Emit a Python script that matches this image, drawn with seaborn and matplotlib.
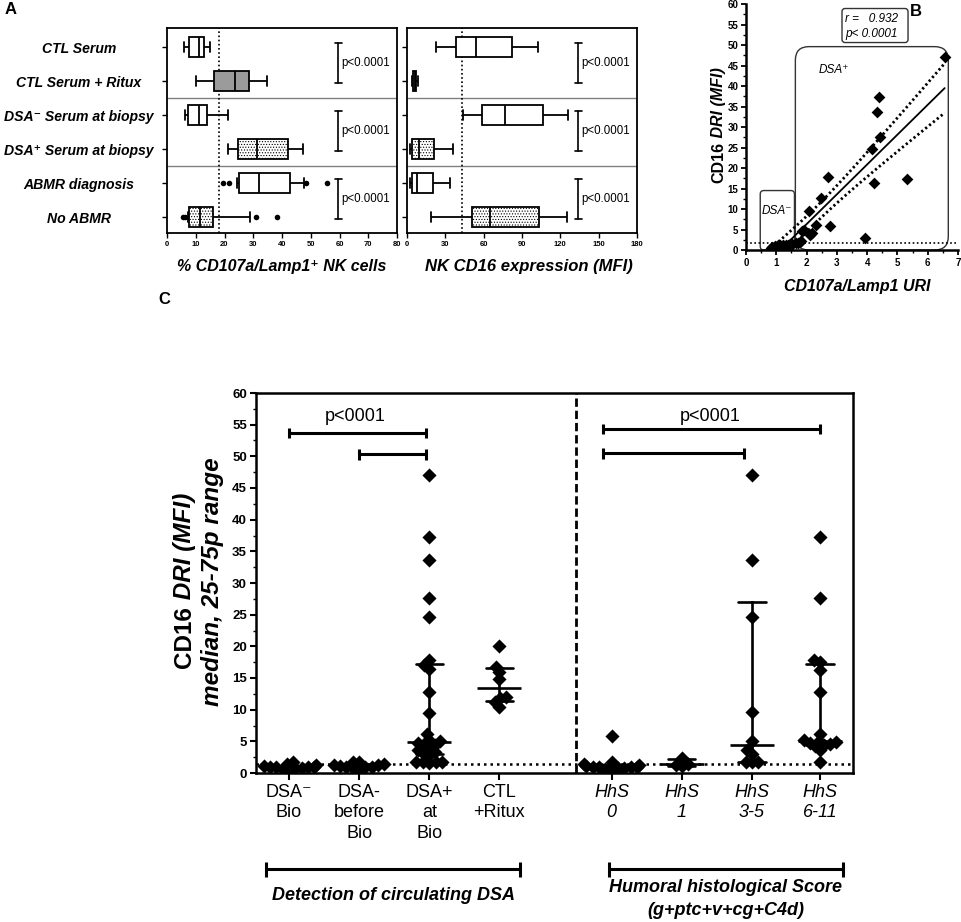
import numpy as np
import pandas as pd
import matplotlib
matplotlib.use("Agg")
import matplotlib.pyplot as plt
import matplotlib.transforms as mtransforms
from matplotlib.patches import FancyBboxPatch
from matplotlib.ticker import MultipleLocator
from matplotlib import font_manager as fm
import seaborn as sns

# ---------------- Panel A data (five-number summaries) ----------------
a_rows = ["CTL Serum", "CTL Serum + Ritux", "DSA\u207b Serum at biopsy",
          "DSA\u207a Serum at biopsy", "ABMR diagnosis", "No ABMR"]
a_fill = ["white", "gray", "white", "dots", "white", "dots"]
# whisker low, Q1, median, Q3, whisker high
a_cd107 = [[6.0, 7.5, 11.0, 13.0, 15.0],
           [10.0, 16.3, 23.8, 28.6, 34.7],
           [6.4, 7.4, 11.0, 13.9, 21.2],
           [21.2, 24.6, 31.3, 42.1, 47.4],
           [24.5, 25.2, 32.0, 42.8, 47.8],
           [7.2, 7.7, 11.4, 15.9, 28.8]]
a_cd107_out_rows = [4, 4, 4, 4, 5, 5, 5, 5]
a_cd107_out_vals = [19.4, 21.6, 48.2, 55.5, 5.5, 6.3, 30.8, 38.1]
a_cd16 = [[22.7, 38.3, 54.2, 82.2, 102.5],
          [4.0, 5.0, 6.0, 7.0, 9.0],
          [44.0, 58.4, 76.7, 106.4, 125.7],
          [2.4, 4.2, 9.7, 20.9, 36.0],
          [2.6, 3.9, 7.6, 20.6, 33.9],
          [18.5, 51.0, 65.0, 103.0, 125.0]]
a_cd107_cut = 18.0
a_cd16_cut = 43.0
a_pval = "p<0.0001"

# ---------------- Panel B data ----------------
b_uri = [0.82, 0.86, 0.90, 0.95, 1.00, 1.02, 1.08, 1.12, 1.18, 1.22, 1.28, 1.33, 1.38, 1.45, 1.52,
         1.65, 1.78, 1.73, 1.82, 1.84, 1.93, 2.10, 2.17, 2.09, 2.31, 2.78, 2.48, 2.70, 3.94,
         4.17, 4.23, 4.33, 4.39, 4.42, 5.32, 6.56]
b_dri = [0.6, 0.8, 0.5, 0.9, 0.7, 1.0, 0.8, 1.1, 0.9, 1.2, 1.0, 1.3, 1.1, 1.4, 1.5,
         1.6, 1.9, 1.8, 2.3, 4.6, 5.0, 3.7, 4.1, 9.5, 6.1, 5.9, 12.8, 17.8, 2.9,
         24.7, 16.3, 33.7, 37.2, 27.6, 17.3, 47.0]
b_cut = 1.8
b_r_text = "r =   0.932"
b_p_text = "p< 0.0001"

# ---------------- Panel C data ----------------
c_labels = ["DSA\u207b\nBio", "DSA-\nbefore\nBio", "DSA+\nat\nBio", "CTL\n+Ritux",
            "HhS\n0", "HhS\n1", "HhS\n3-5", "HhS\n6-11"]
c_dsa_neg_bio = [0.6, 0.7, 0.8, 0.8, 0.9, 0.9, 1.0, 1.0, 1.1, 1.2, 1.5, 1.8]
c_dsa_neg_before = [0.7, 0.8, 0.9, 1.0, 1.0, 1.1, 1.2, 1.3, 1.5, 1.7, 1.8]
c_dsa_pos_bio = [47.0, 37.2, 33.7, 27.6, 24.7, 17.8, 17.1, 16.5, 12.8, 9.5, 6.1, 5.2, 5.0,
                 4.8, 4.6, 4.4, 4.1, 3.7, 3.3, 3.1, 2.9, 1.8, 1.7, 1.7, 1.7, 1.6]
c_ctl_ritux = [20.0, 16.8, 16.0, 14.8, 12.0, 11.8, 11.2, 10.5]
c_hhs_0 = [5.8, 1.8, 1.4, 1.2, 1.1, 1.0, 1.0, 0.9, 0.9, 0.8, 0.8, 0.7, 0.6]
c_hhs_1 = [2.4, 1.5, 1.3, 1.1]
c_hhs_3_5 = [47.0, 33.7, 24.7, 9.6, 5.1, 3.6, 3.0, 1.7, 1.7, 1.7]
c_hhs_6_11 = [37.2, 27.6, 17.8, 17.6, 16.3, 12.8, 6.1, 5.2, 5.0, 4.9, 4.8, 4.6, 4.4, 4.2, 3.6, 1.7]
c_groups = [c_dsa_neg_bio, c_dsa_neg_before, c_dsa_pos_bio, c_ctl_ritux,
            c_hhs_0, c_hhs_1, c_hhs_3_5, c_hhs_6_11]
c_pos = [0, 1, 2, 3, 4.6, 5.6, 6.6, 7.57]
c_cut = 1.5
c_sep = 4.09
c_brackets = [(0.0, 1.95, 53.7), (1.0, 1.95, 50.3), (4.47, 7.57, 54.3), (4.47, 6.48, 50.5)]
c_ptext = [(0.95, 56.3), (6.0, 56.3)]

# ---------------- style ----------------
sns.set_style("ticks")
names = {f.name for f in fm.fontManager.ttflist}
BASE = "Liberation Sans" if "Liberation Sans" in names else "DejaVu Sans"
FAM = [BASE, "DejaVu Sans"]
plt.rcParams["font.family"] = FAM
plt.rcParams["hatch.linewidth"] = 0.5
plt.rcParams["axes.edgecolor"] = "black"
plt.rcParams["xtick.color"] = "black"
plt.rcParams["ytick.color"] = "black"
plt.rcParams["text.color"] = "black"

W, H = 962, 922
fig = plt.figure(figsize=(W / 100, H / 100), dpi=100)
fig.patch.set_facecolor("white")


def ax_at(x0, y0, x1, y1):
    return fig.add_axes([x0 / W, 1 - y1 / H, (x1 - x0) / W, (y1 - y0) / H])


def ftext(x, y, s, **kw):
    return fig.text(x / W, 1 - y / H, s, **kw)


axA1 = ax_at(167, 28, 397, 233)
axA2 = ax_at(407, 28, 637, 233)
axB = ax_at(746, 4, 958, 250)
axC = ax_at(256, 393, 853, 773)


# ---------------- Panel A ----------------
def panel_a(ax, stats, cut, xmax, xstep, px_width, pval_x, labels):
    df = pd.DataFrame({"row": np.repeat(a_rows, 5), "val": np.concatenate(stats)})
    sns.boxplot(data=df, x="val", y="row", order=a_rows, whis=(0, 100), width=0.6,
                color="white", linecolor="black", linewidth=1.3, showfliers=False,
                saturation=1, ax=ax)
    for patch, fill in zip(ax.patches, a_fill):
        patch.set_edgecolor("black")
        if fill == "gray":
            patch.set_facecolor("#9b9b9b")
        elif fill == "dots":
            patch.set_facecolor("white")
            patch.set_hatch("......")
        else:
            patch.set_facecolor("white")
    for y in (1.5, 3.5):
        ax.axhline(y, color="#808080", lw=1.0, zorder=0)
    ax.axvline(cut, color="black", lw=1.2, ls=(0, (1, 1.5)), zorder=0.5)
    d = xmax / px_width * 3.5
    for k in (0, 2, 4):
        y0, y1 = k - 0.12, k + 1.05
        ax.plot([pval_x, pval_x], [y0, y1], color="black", lw=1.2)
        ax.plot([pval_x - d, pval_x + d], [y0, y0], color="black", lw=1.2)
        ax.plot([pval_x - d, pval_x + d], [y1, y1], color="black", lw=1.2)
        ax.text(pval_x + d * 0.8, k + 0.47, a_pval, fontsize=8.3, va="center", ha="left")
    ax.set_xlim(0, xmax)
    ax.set_ylim(5.47, -0.56)
    ax.set_xticks(np.arange(0, xmax + 1, xstep))
    ax.set_xticklabels([f"{int(v)}" for v in np.arange(0, xmax + 1, xstep)],
                       fontsize=5.5, fontweight="bold")
    ax.set_yticks(range(6))
    if labels:
        ax.set_yticklabels(a_rows, fontsize=10.1, fontweight="bold", fontstyle="italic")
        for t in ax.get_yticklabels():
            t.set_horizontalalignment("center")
        ax.tick_params(axis="y", pad=60)
    else:
        ax.set_yticklabels([])
    ax.set_xlabel("")
    ax.set_ylabel("")
    for s in ax.spines.values():
        s.set_visible(True)
        s.set_linewidth(1.3)
    ax.tick_params(axis="x", direction="out", length=3.5, width=1.0, pad=2)
    ax.tick_params(axis="y", direction="out", length=3.5, width=1.0)


panel_a(axA1, a_cd107, a_cd107_cut, 80, 10, 230, 59.5, True)
sns.scatterplot(x=a_cd107_out_vals, y=a_cd107_out_rows, color="black", s=16,
                edgecolor="black", linewidth=0, ax=axA1, zorder=5)
axA1.set_ylim(5.47, -0.56)
panel_a(axA2, a_cd16, a_cd16_cut, 180, 30, 230, 134, False)

ftext(282, 267, "% CD107a/Lamp1\u207a NK cells", fontsize=11.5, fontweight="bold",
      fontstyle="italic", ha="center", va="center")
ftext(529, 267, "NK CD16 expression (MFI)", fontsize=12, fontweight="bold",
      fontstyle="italic", ha="center", va="center")

# ---------------- Panel B ----------------
bx = np.array(b_uri)
by = np.array(b_dri)
sns.scatterplot(x=bx, y=by, marker="D", s=36, color="black", edgecolor="black",
                linewidth=0, ax=axB, zorder=5)
sns.regplot(x=bx, y=by, scatter=False, ci=None, truncate=True,
            line_kws={"color": "black", "lw": 1.3}, ax=axB)
slope, icpt = np.polyfit(bx, by, 1)
n = len(bx)
resid = by - (icpt + slope * bx)
s_res = np.sqrt(np.sum(resid ** 2) / (n - 2))
sxx = np.sum((bx - bx.mean()) ** 2)
xg = np.linspace(bx.min(), bx.max(), 100)
se = s_res * np.sqrt(1.0 / n + (xg - bx.mean()) ** 2 / sxx)
T95 = 2.03
for sign in (1, -1):
    axB.plot(xg, icpt + slope * xg + sign * T95 * se, color="black", lw=2.0,
             ls=(0, (0.8, 1.0)))
axB.axhline(b_cut, color="black", lw=1.2, ls=(0, (1, 1.5)))

# rounded region boxes (x units ~30 px, y units ~4.1 px)
asp = 30.2 / 4.1
axB.add_patch(FancyBboxPatch((0.47, 0.0), 1.13, 14.5,
                             boxstyle="round,pad=0,rounding_size=0.12",
                             mutation_aspect=asp, fc="none", ec="#333333", lw=1.0,
                             clip_on=False))
axB.add_patch(FancyBboxPatch((1.63, 0.0), 5.05, 49.6,
                             boxstyle="round,pad=0,rounding_size=0.45",
                             mutation_aspect=asp, fc="none", ec="#333333", lw=1.0,
                             clip_on=False))
axB.add_patch(FancyBboxPatch((3.17, 50.6), 2.18, 8.3,
                             boxstyle="round,pad=0,rounding_size=0.1",
                             mutation_aspect=asp, fc="none", ec="#333333", lw=1.0,
                             clip_on=False))
axB.text(3.27, 56.3, b_r_text, fontsize=8.5, fontstyle="italic", va="center", ha="left")
axB.text(3.27, 52.7, b_p_text, fontsize=8.5, fontstyle="italic", va="center", ha="left")
axB.text(2.39, 43.9, "DSA\u207a", fontsize=8.5, fontstyle="italic", va="center", ha="left")
axB.text(0.52, 9.4, "DSA\u207b", fontsize=8.5, fontstyle="italic", va="center", ha="left")

axB.set_xlim(0, 7)
axB.set_ylim(0, 60)
axB.set_xticks(range(0, 8))
axB.set_xticklabels([str(v) for v in range(0, 8)], fontsize=7, fontweight="bold")
axB.set_yticks(range(0, 61, 5))
axB.set_yticklabels([str(v) for v in range(0, 61, 5)], fontsize=7, fontweight="bold")
axB.yaxis.set_minor_locator(MultipleLocator(2.5))
axB.xaxis.set_minor_locator(MultipleLocator(0.5))
sns.despine(ax=axB)
for s in ("left", "bottom"):
    axB.spines[s].set_linewidth(1.8)
axB.tick_params(which="major", direction="out", length=3.5, width=1.3, pad=2)
axB.tick_params(which="minor", direction="out", length=2, width=1.0)
axB.set_xlabel("")
axB.set_ylabel("")
ftext(857, 286, "CD107a/Lamp1 URI", fontsize=11.5, fontweight="bold",
      fontstyle="italic", ha="center", va="center")

# ---------------- Panel C ----------------
dfc = pd.DataFrame({
    "pos": np.concatenate([[p] * len(g) for p, g in zip(c_pos, c_groups)]),
    "val": np.concatenate(c_groups)})


def iqr_weibull(v):
    return (np.percentile(v, 25, method="weibull"), np.percentile(v, 75, method="weibull"))


sns.pointplot(data=dfc, x="pos", y="val", native_scale=True, estimator="median",
              errorbar=iqr_weibull, capsize=0.4, color="black", marker="_",
              linestyle="none", markersize=32, markeredgewidth=1.9,
              err_kws={"linewidth": 1.9}, ax=axC)
n_before = len(axC.collections)
SWARM_LAYOUT = 4.4   # spacing used for the beeswarm arrangement (points overlap like GraphPad)
SWARM_SIZE = 7.2     # drawn marker size
sns.swarmplot(data=dfc, x="pos", y="val", native_scale=True, marker="D", size=SWARM_LAYOUT,
              color="black", linewidth=0, ax=axC, zorder=4)
swarm_cols = axC.collections[n_before:]

axC.axhline(c_cut, color="black", lw=1.8, ls=(0, (1, 1.6)), zorder=1)
axC.axvline(c_sep, color="black", lw=2.0, ls=(0, (3, 1.4)), zorder=1)
for x0, x1, y in c_brackets:
    axC.plot([x0, x1], [y, y], color="black", lw=2.2, solid_capstyle="butt")
    for xx in (x0, x1):
        axC.plot([xx, xx], [y - 0.85, y + 0.85], color="black", lw=2.2,
                 solid_capstyle="butt")
for x, y in c_ptext:
    axC.text(x, y, "p<0001", fontsize=13, ha="center", va="center")

axC.set_xlim(-0.47, 8.04)
axC.set_ylim(0, 60)
axC.set_xticks(c_pos)
axC.set_xticklabels(c_labels, fontsize=13, linespacing=1.25)
for i, t in enumerate(axC.get_xticklabels()):
    t.set_va("top")
    if i >= 4:
        t.set_fontstyle("italic")
axC.set_yticks(range(0, 61, 5))
axC.set_yticklabels([str(v) for v in range(0, 61, 5)], fontsize=9.5, fontweight="bold")
axC.yaxis.set_minor_locator(MultipleLocator(2.5))
for s in axC.spines.values():
    s.set_visible(True)
    s.set_linewidth(1.8)
axC.tick_params(which="major", direction="out", length=4.5, width=1.5, pad=2)
axC.tick_params(axis="x", which="major", length=5, pad=3)
axC.tick_params(which="minor", direction="out", length=2.5, width=1.0)
axC.tick_params(axis="x", which="minor", length=0)
axC.set_xlabel("")
axC.set_ylabel("")

# bottom group brackets (x in data, y in axes fraction)
trC = mtransforms.blended_transform_factory(axC.transData, axC.transAxes)
yb = (773 - 869) / 380.0
cap = 7.5 / 380.0
for x0, x1 in ((-0.33, 3.3), (4.56, 7.9)):
    axC.plot([x0, x1], [yb, yb], color="black", lw=2.2, transform=trC, clip_on=False,
             solid_capstyle="butt")
    for xx in (x0, x1):
        axC.plot([xx, xx], [yb - cap, yb + cap], color="black", lw=2.2, transform=trC,
                 clip_on=False, solid_capstyle="butt")
ftext(394, 895, "Detection of circulating DSA", fontsize=13, fontweight="bold",
      fontstyle="italic", ha="center", va="center")
ftext(726, 899, "Humoral histological Score\n(g+ptc+v+cg+C4d)", fontsize=13,
      fontweight="bold", fontstyle="italic", ha="center", va="center", linespacing=1.4)


# ---------------- rich vertical labels ----------------
def rich_vertical(xc, yc, pieces, size):
    r = fig.canvas.get_renderer()
    arts, lens = [], []
    for s, st in pieces:
        t = fig.text(0, 0, s, rotation=90, ha="center", va="bottom", fontsize=size,
                     fontweight="bold", fontstyle=st,
                     transform=mtransforms.IdentityTransform())
        bb = t.get_window_extent(r)
        arts.append(t)
        lens.append(bb.height)
    y = (H - yc) - sum(lens) / 2.0
    for t, L in zip(arts, lens):
        t.set_position((xc, y))
        y += L


# first draw: lays out the beeswarm with the compact spacing
fig.canvas.draw()
for coll in swarm_cols:
    if "draw" in coll.__dict__:
        del coll.__dict__["draw"]
    coll.set_sizes([SWARM_SIZE ** 2])

rich_vertical(719, 125, [("CD16", "normal"), (" DRI (MFI)", "italic")], 11.5)
rich_vertical(185, 580, [("CD16", "normal"), (" DRI (MFI)", "italic")], 17.5)
rich_vertical(212, 582, [("median, 25-75p range", "italic")], 17.5)

# panel letters
ftext(5, 10, "A", fontsize=12, fontweight="bold", ha="left", va="center")
ftext(910, 12, "B", fontsize=12, fontweight="bold", ha="left", va="center")
ftext(158, 300, "C", fontsize=12, fontweight="bold", ha="left", va="center")

fig.savefig("out.png", dpi=100, facecolor="white")
